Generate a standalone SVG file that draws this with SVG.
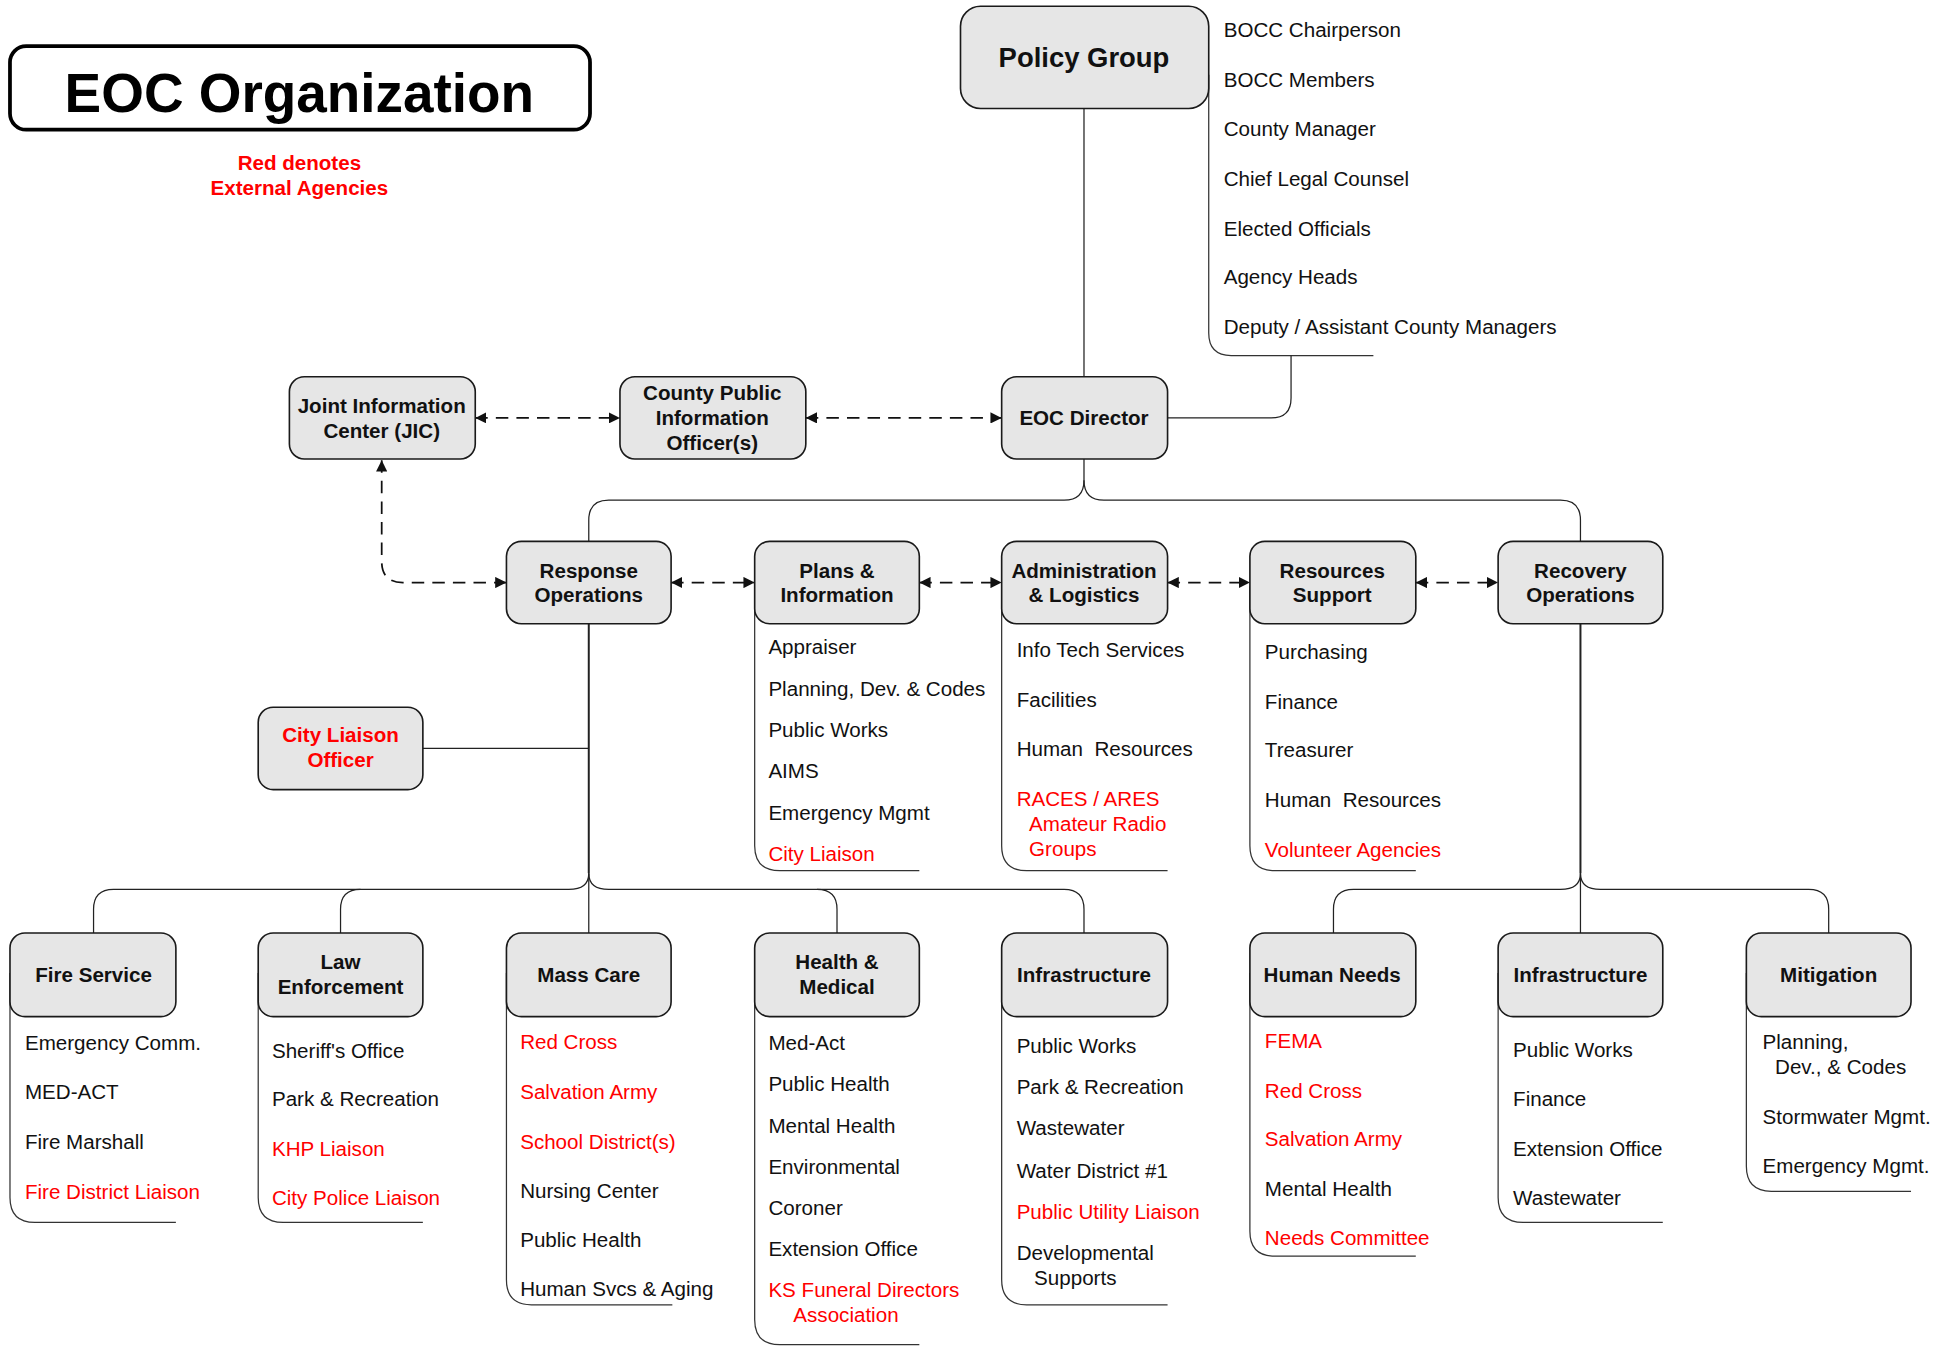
<svg xmlns="http://www.w3.org/2000/svg" width="1956" height="1347" viewBox="0 0 1956 1347">
<style>
.box{fill:#e6e6e6;stroke:#1a1a1a;stroke-width:1.3}
.lbl{font-family:"Liberation Sans",Arial,sans-serif;font-weight:bold;font-size:16.5px;text-anchor:middle;fill:#111}
.it{font-family:"Liberation Sans",Arial,sans-serif;font-size:16.5px;fill:#111}
.red{fill:#ff0000}
.conn{fill:none;stroke:#222;stroke-width:1}
.thick{stroke-width:1.6}
.brk{fill:none;stroke:#333;stroke-width:1}
.dash{fill:none;stroke:#111;stroke-width:1.4;stroke-dasharray:10 6.5}
</style>
<defs>
<marker id="ah" viewBox="0 0 8 8" refX="8" refY="4" markerWidth="9" markerHeight="9" markerUnits="userSpaceOnUse" orient="auto-start-reverse">
<path d="M0,0 L8,4 L0,8 z" fill="#111"/>
</marker>
</defs>
<rect width="1956" height="1347" fill="#ffffff"/>
<g transform="scale(1.2474)">
<g id="title">
<rect x="8" y="37" width="465" height="67" rx="13" fill="#fff" stroke="#000" stroke-width="3"/>
<text x="240" y="90" style="font-family:'Liberation Sans',Arial,sans-serif;font-weight:bold;font-size:44px;text-anchor:middle" fill="#000">EOC Organization</text>
<text x="240" y="136" class="lbl red" style="fill:#ff0000">Red denotes</text>
<text x="240" y="156" class="lbl red" style="fill:#ff0000">External Agencies</text>
</g>
<g id="connectors">
<path class="conn" d="M869,87 V302"/>
<path class="brk" d="M969,60 V267 Q969,285 987,285 H1101"/>
<path class="conn" d="M1035,285 V319 Q1035,335 1019,335 H936"/>
<path class="conn" d="M869,368 V385 Q869,401 853,401 H488 Q472,401 472,417 V434"/>
<path class="conn" d="M869,385 Q869,401 885,401 H1251 Q1267,401 1267,417 V434"/>
<path class="dash" d="M381,335 H497" marker-start="url(#ah)" marker-end="url(#ah)"/>
<path class="dash" d="M646,335 H803" marker-start="url(#ah)" marker-end="url(#ah)"/>
<path class="dash" d="M306,369 V450 Q306,467 323,467 H406" marker-start="url(#ah)" marker-end="url(#ah)"/>
<path class="dash" d="M538,467 H605" marker-start="url(#ah)" marker-end="url(#ah)"/>
<path class="dash" d="M737,467 H803" marker-start="url(#ah)" marker-end="url(#ah)"/>
<path class="dash" d="M936,467 H1002" marker-start="url(#ah)" marker-end="url(#ah)"/>
<path class="dash" d="M1135,467 H1201" marker-start="url(#ah)" marker-end="url(#ah)"/>
<path class="conn thick" d="M472,500 V700"/>
<path class="conn" d="M472,700 V748"/>
<path class="conn" d="M339,600 H472"/>
<path class="conn" d="M472,700 Q472,713 456,713 H91 Q75,713 75,729 V748"/>
<path class="conn" d="M289,713 Q273,713 273,729 V748"/>
<path class="conn" d="M472,700 Q472,713 488,713 H655 Q671,713 671,729 V748"/>
<path class="conn" d="M655,713 H853 Q869,713 869,729 V748"/>
<path class="conn thick" d="M1267,500 V700"/>
<path class="conn" d="M1267,700 V748"/>
<path class="conn" d="M1267,700 Q1267,713 1251,713 H1085 Q1069,713 1069,729 V748"/>
<path class="conn" d="M1267,700 Q1267,713 1283,713 H1450 Q1466,713 1466,729 V748"/>
<path class="brk" d="M605,470 V678 Q605,698 625,698 H737"/>
<path class="brk" d="M803,470 V678 Q803,698 823,698 H936"/>
<path class="brk" d="M1002,470 V678 Q1002,698 1022,698 H1135"/>
<path class="brk" d="M8,780 V960 Q8,980 28,980 H141"/>
<path class="brk" d="M207,780 V960 Q207,980 227,980 H339"/>
<path class="brk" d="M406,780 V1026 Q406,1046 426,1046 H539"/>
<path class="brk" d="M605,780 V1058 Q605,1078 625,1078 H737"/>
<path class="brk" d="M803,780 V1026 Q803,1046 823,1046 H936"/>
<path class="brk" d="M1002,780 V987 Q1002,1007 1022,1007 H1135"/>
<path class="brk" d="M1201,780 V960 Q1201,980 1221,980 H1333"/>
<path class="brk" d="M1400,780 V935 Q1400,955 1420,955 H1532"/>
</g>
<g id="policy-group">
<rect class="box" x="770" y="5" width="199" height="82" rx="16"/>
<text class="lbl" x="869" y="54" style="font-size:22px">Policy Group</text>
<text class="it" x="981" y="30">BOCC Chairperson</text>
<text class="it" x="981" y="70">BOCC Members</text>
<text class="it" x="981" y="109">County Manager</text>
<text class="it" x="981" y="149">Chief Legal Counsel</text>
<text class="it" x="981" y="189">Elected Officials</text>
<text class="it" x="981" y="228">Agency Heads</text>
<text class="it" x="981" y="268">Deputy / Assistant County Managers</text>
</g>
<g id="jic">
<rect class="box" x="232" y="302" width="149" height="66" rx="12"/>
<text class="lbl" x="306" y="331">Joint Information</text>
<text class="lbl" x="306" y="351">Center (JIC)</text>
</g>
<g id="county-pio">
<rect class="box" x="497" y="302" width="149" height="66" rx="12"/>
<text class="lbl" x="571" y="321">County Public</text>
<text class="lbl" x="571" y="341">Information</text>
<text class="lbl" x="571" y="361">Officer(s)</text>
</g>
<g id="eoc-director">
<rect class="box" x="803" y="302" width="133" height="66" rx="12"/>
<text class="lbl" x="869" y="341">EOC Director</text>
</g>
<g id="response-operations">
<rect class="box" x="406" y="434" width="132" height="66" rx="12"/>
<text class="lbl" x="472" y="463">Response</text>
<text class="lbl" x="472" y="483">Operations</text>
</g>
<g id="plans-information">
<rect class="box" x="605" y="434" width="132" height="66" rx="12"/>
<text class="lbl" x="671" y="463">Plans &amp;</text>
<text class="lbl" x="671" y="483">Information</text>
<text class="it" x="616" y="524">Appraiser</text>
<text class="it" x="616" y="558">Planning, Dev. &amp; Codes</text>
<text class="it" x="616" y="591">Public Works</text>
<text class="it" x="616" y="624">AIMS</text>
<text class="it" x="616" y="657">Emergency Mgmt</text>
<text class="it red" x="616" y="690">City Liaison</text>
</g>
<g id="administration-logistics">
<rect class="box" x="803" y="434" width="133" height="66" rx="12"/>
<text class="lbl" x="869" y="463">Administration</text>
<text class="lbl" x="869" y="483">&amp; Logistics</text>
<text class="it" x="815" y="527">Info Tech Services</text>
<text class="it" x="815" y="567">Facilities</text>
<text class="it" x="815" y="606" xml:space="preserve">Human  Resources</text>
<text class="it red" x="815" y="646">RACES / ARES</text>
<text class="it red" x="825" y="666">Amateur Radio</text>
<text class="it red" x="825" y="686">Groups</text>
</g>
<g id="resources-support">
<rect class="box" x="1002" y="434" width="133" height="66" rx="12"/>
<text class="lbl" x="1068" y="463">Resources</text>
<text class="lbl" x="1068" y="483">Support</text>
<text class="it" x="1014" y="528">Purchasing</text>
<text class="it" x="1014" y="568">Finance</text>
<text class="it" x="1014" y="607">Treasurer</text>
<text class="it" x="1014" y="647" xml:space="preserve">Human  Resources</text>
<text class="it red" x="1014" y="687">Volunteer Agencies</text>
</g>
<g id="recovery-operations">
<rect class="box" x="1201" y="434" width="132" height="66" rx="12"/>
<text class="lbl" x="1267" y="463">Recovery</text>
<text class="lbl" x="1267" y="483">Operations</text>
</g>
<g id="city-liaison-officer">
<rect class="box" x="207" y="567" width="132" height="66" rx="12"/>
<text class="lbl red" x="273" y="595" style="fill:#ff0000">City Liaison</text>
<text class="lbl red" x="273" y="615" style="fill:#ff0000">Officer</text>
</g>
<g id="fire-service">
<rect class="box" x="8" y="748" width="133" height="67" rx="12"/>
<text class="lbl" x="75" y="787">Fire Service</text>
<text class="it" x="20" y="842">Emergency Comm.</text>
<text class="it" x="20" y="881">MED-ACT</text>
<text class="it" x="20" y="921">Fire Marshall</text>
<text class="it red" x="20" y="961">Fire District Liaison</text>
</g>
<g id="law-enforcement">
<rect class="box" x="207" y="748" width="132" height="67" rx="12"/>
<text class="lbl" x="273" y="777">Law</text>
<text class="lbl" x="273" y="797">Enforcement</text>
<text class="it" x="218" y="848">Sheriff's Office</text>
<text class="it" x="218" y="887">Park &amp; Recreation</text>
<text class="it red" x="218" y="927">KHP Liaison</text>
<text class="it red" x="218" y="966">City Police Liaison</text>
</g>
<g id="mass-care">
<rect class="box" x="406" y="748" width="132" height="67" rx="12"/>
<text class="lbl" x="472" y="787">Mass Care</text>
<text class="it red" x="417" y="841">Red Cross</text>
<text class="it red" x="417" y="881">Salvation Army</text>
<text class="it red" x="417" y="921">School District(s)</text>
<text class="it" x="417" y="960">Nursing Center</text>
<text class="it" x="417" y="1000">Public Health</text>
<text class="it" x="417" y="1039">Human Svcs &amp; Aging</text>
</g>
<g id="health-medical">
<rect class="box" x="605" y="748" width="132" height="67" rx="12"/>
<text class="lbl" x="671" y="777">Health &amp;</text>
<text class="lbl" x="671" y="797">Medical</text>
<text class="it" x="616" y="842">Med-Act</text>
<text class="it" x="616" y="875">Public Health</text>
<text class="it" x="616" y="908">Mental Health</text>
<text class="it" x="616" y="941">Environmental</text>
<text class="it" x="616" y="974">Coroner</text>
<text class="it" x="616" y="1007">Extension Office</text>
<text class="it red" x="616" y="1040">KS Funeral Directors</text>
<text class="it red" x="636" y="1060">Association</text>
</g>
<g id="infrastructure-response">
<rect class="box" x="803" y="748" width="133" height="67" rx="12"/>
<text class="lbl" x="869" y="787">Infrastructure</text>
<text class="it" x="815" y="844">Public Works</text>
<text class="it" x="815" y="877">Park &amp; Recreation</text>
<text class="it" x="815" y="910">Wastewater</text>
<text class="it" x="815" y="944">Water District #1</text>
<text class="it red" x="815" y="977">Public Utility Liaison</text>
<text class="it" x="815" y="1010">Developmental</text>
<text class="it" x="829" y="1030">Supports</text>
</g>
<g id="human-needs">
<rect class="box" x="1002" y="748" width="133" height="67" rx="12"/>
<text class="lbl" x="1068" y="787">Human Needs</text>
<text class="it red" x="1014" y="840">FEMA</text>
<text class="it red" x="1014" y="880">Red Cross</text>
<text class="it red" x="1014" y="919">Salvation Army</text>
<text class="it" x="1014" y="959">Mental Health</text>
<text class="it red" x="1014" y="998">Needs Committee</text>
</g>
<g id="infrastructure-recovery">
<rect class="box" x="1201" y="748" width="132" height="67" rx="12"/>
<text class="lbl" x="1267" y="787">Infrastructure</text>
<text class="it" x="1213" y="847">Public Works</text>
<text class="it" x="1213" y="887">Finance</text>
<text class="it" x="1213" y="927">Extension Office</text>
<text class="it" x="1213" y="966">Wastewater</text>
</g>
<g id="mitigation">
<rect class="box" x="1400" y="748" width="132" height="67" rx="12"/>
<text class="lbl" x="1466" y="787">Mitigation</text>
<text class="it" x="1413" y="841">Planning,</text>
<text class="it" x="1423" y="861">Dev., &amp; Codes</text>
<text class="it" x="1413" y="901">Stormwater Mgmt.</text>
<text class="it" x="1413" y="940">Emergency Mgmt.</text>
</g>
</g>
</svg>
